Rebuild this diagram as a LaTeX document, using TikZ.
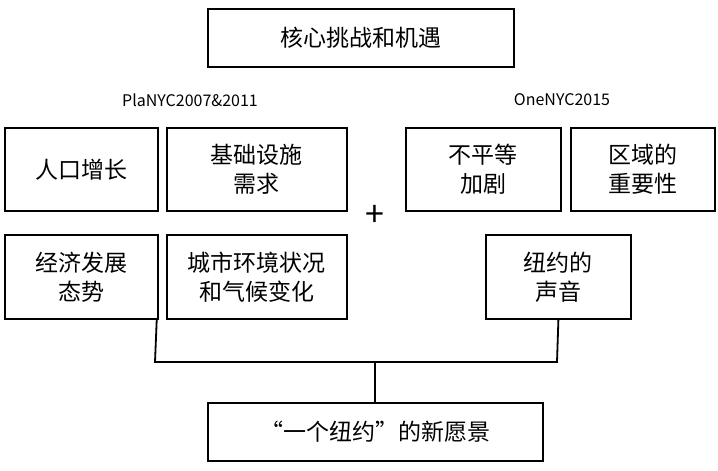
\documentclass[tikz,border=0pt]{standalone}
\usepackage{fontspec}
\setmainfont{Noto Sans CJK SC}
\begin{document}
\begin{tikzpicture}[x=1pt,y=-1pt,
  bx/.style={draw,line width=1.8pt,anchor=north west,align=center,font=\fontsize{23}{29}\selectfont,inner sep=0pt},
  lbl/.style={font=\fontsize{16}{18}\selectfont}]
\useasboundingbox (0,0) rectangle (718,471);
\newcommand\bxat[6]{\node[bx,minimum width=#3-#1,minimum height=#4-#2] (#5) at (#1,#2) {#6};}
\bxat{207}{8}{513}{66}{top}{核心挑战和机遇}
\bxat{4}{127}{157}{210}{a}{人口增长}
\bxat{166}{127}{346}{210}{b}{基础设施\\需求}
\bxat{405}{127}{560}{210}{c}{不平等\\加剧}
\bxat{570}{127}{714}{210}{d}{区域的\\重要性}
\bxat{4}{234}{157}{318}{e}{经济发展\\态势}
\bxat{166}{234}{346}{318}{f}{城市环境状况\\和气候变化}
\bxat{485}{234}{630}{318}{g}{纽约的\\声音}
\bxat{207}{402}{542}{460}{h}{“一个纽约”的新愿景}
\node[lbl] (l1) at (190,100) {PlaNYC2007\&2011};
\node[lbl] (l2) at (562,100) {OneNYC2015};
\node[font=\fontsize{34}{34}\selectfont] (plus) at (375,216) {+};
\coordinate (j1) at (155,362);
\coordinate (j2) at (557,362);
\coordinate (jm) at (375,362);
\draw[line width=1.8pt] (e.south east |- 0,318) ++(-2,0) -- (j1) -- (j2) -- (g.south);
\draw[line width=1.8pt] (jm) -- (h.north -| jm);
\end{tikzpicture}
\end{document}
